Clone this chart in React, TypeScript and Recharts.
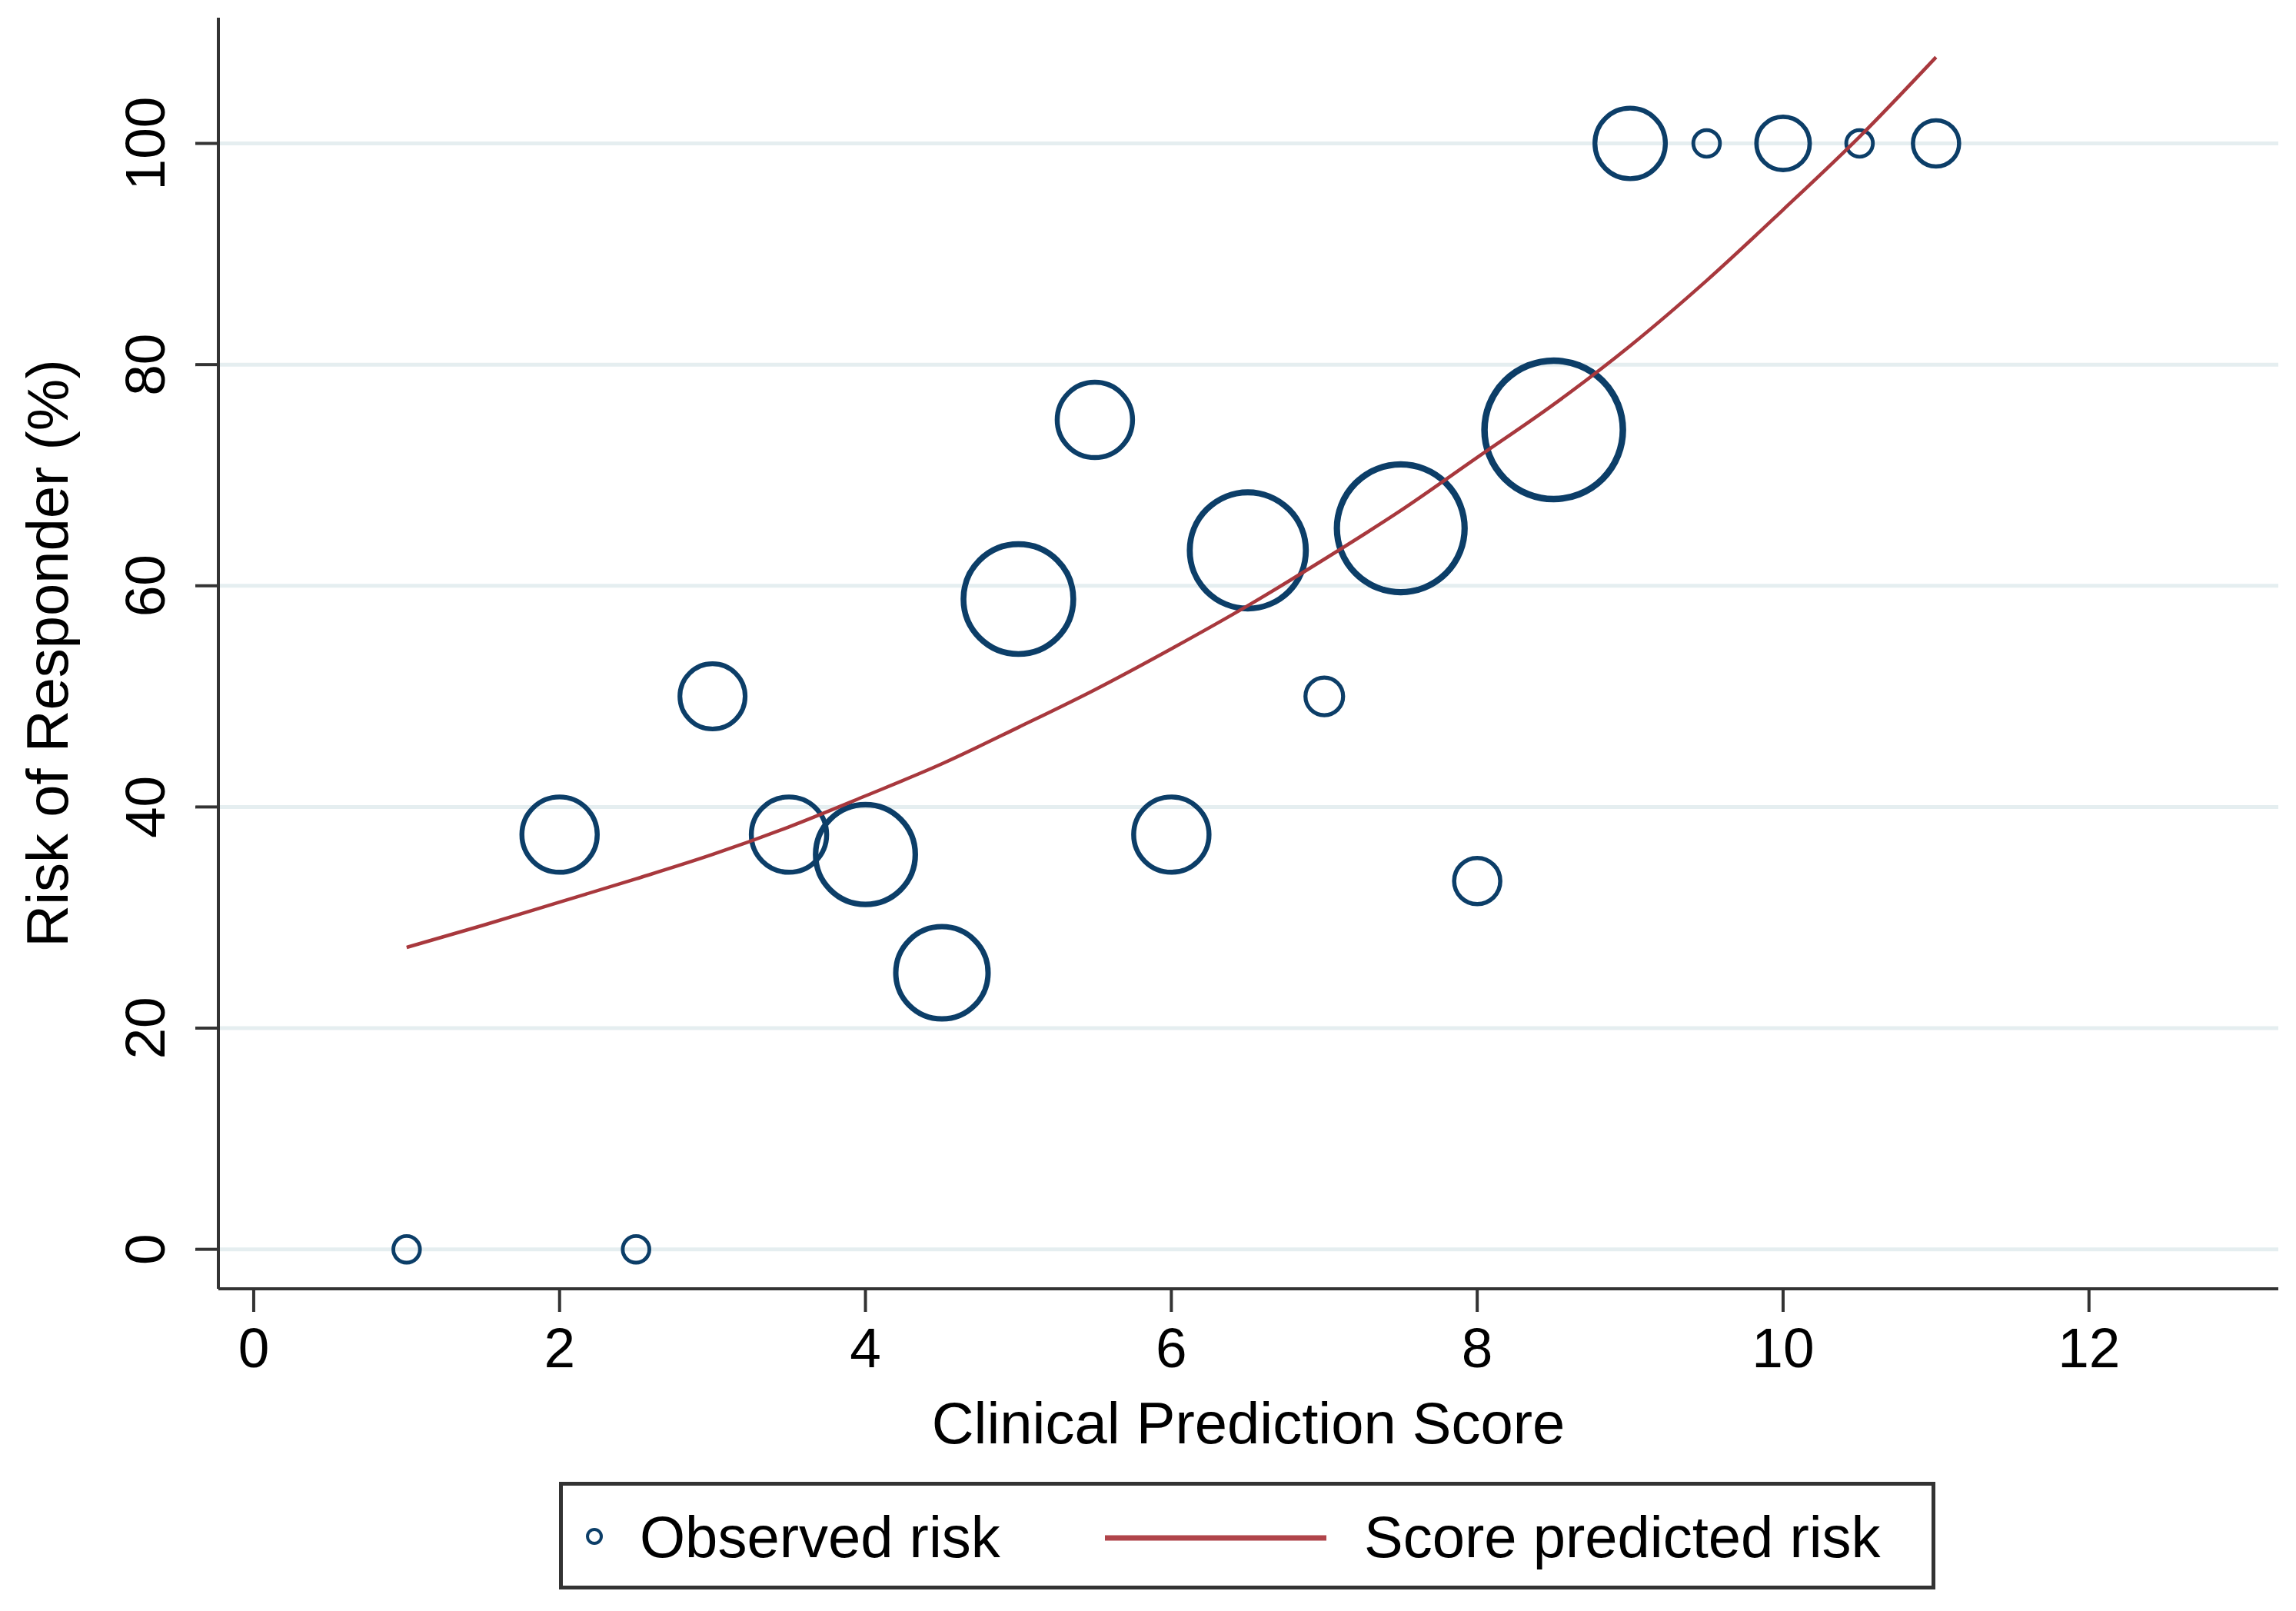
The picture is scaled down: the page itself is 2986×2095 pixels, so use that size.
import React from 'react'
import {
  ScatterChart,
  Scatter,
  XAxis,
  YAxis,
  ZAxis,
  CartesianGrid,
  Legend,
} from 'recharts'

// Observed risk per score group, bubble area ~ number of patients in the group
const scores = [1, 2, 2.5, 3, 3.5, 4, 4.5, 5, 5.5, 6, 6.5, 7, 7.5, 8, 8.5, 9, 9.5, 10, 10.5, 11]
const observedRisk = [0, 37.5, 0, 50, 37.5, 35.7, 25, 58.8, 75, 37.5, 63.2, 50, 65.2, 33.3, 74.1, 100, 100, 100, 100, 100]
const groupSize = [1, 8, 1, 6, 8, 14, 12, 17, 8, 8, 19, 2, 23, 3, 27, 7, 1, 4, 1, 3]

// Score predicted risk
const curveScores = [1, 1.5, 2, 2.5, 3, 3.5, 4, 4.5, 5, 5.5, 6, 6.5, 7, 7.5, 8, 8.5, 9, 9.5, 10, 10.5, 11]
const predictedRisk = [27.3, 29.3, 31.4, 33.5, 35.7, 38.2, 41.0, 43.9, 47.2, 50.6, 54.3, 58.2, 62.4, 66.8, 71.6, 76.4, 81.7, 87.6, 94.0, 100.6, 107.8]

const xTicks = [0, 2, 4, 6, 8, 10, 12]
const yTicks = [0, 20, 40, 60, 80, 100]

const observedData = scores.map((score, i) => ({ score, risk: observedRisk[i], n: groupSize[i] }))
const curveData = curveScores.map((score, i) => ({ score, risk: predictedRisk[i] }))

const NAVY = '#0c3e68'
const MAROON = '#a8383d'
const AXIS = '#333333'
const FONT = '"Liberation Sans", Arial, Helvetica, sans-serif'

const Bubble = (props: any) => {
  const { cx, cy } = props
  const size = props.size ?? Math.PI * Math.pow((props.width || 0) / 2, 2)
  const r = Math.sqrt(Math.max(size, 0) / Math.PI)
  if (cx == null || cy == null || !isFinite(r)) return <g />
  return (
    <circle cx={cx} cy={cy} r={r} fill="none" stroke={NAVY} strokeWidth={4 + r * 0.05} />
  )
}

const XTick = ({ x, y, payload }: any) => (
  <text x={x} y={y} dy="0.71em" textAnchor="middle" fontSize={73} fontFamily={FONT} fill="#000">
    {payload.value}
  </text>
)

const YTick = ({ x, y, payload }: any) => (
  <text
    transform={`translate(${x},${y}) rotate(-90)`}
    textAnchor="middle"
    fontSize={73}
    fontFamily={FONT}
    fill="#000"
  >
    {payload.value}
  </text>
)

const XTitle = ({ viewBox }: any) => (
  <text
    x={viewBox.x + viewBox.width / 2}
    y={viewBox.y + 201}
    textAnchor="middle"
    fontSize={76}
    fontFamily={FONT}
    fill="#000"
  >
    Clinical Prediction Score
  </text>
)

const YTitle = ({ viewBox }: any) => (
  <text
    transform={`translate(${viewBox.x + 4},${viewBox.y + viewBox.height / 2}) rotate(-90)`}
    textAnchor="middle"
    fontSize={76}
    fontFamily={FONT}
    fill="#000"
  >
    Risk of Responder (%)
  </text>
)

// legend item offsets inside the box: [symbol x, text x]
const legendSlots = [
  { sym: 46, text: 105 },
  { sym: 710, text: 1047 },
]

const LegendBox = ({ payload }: any) => {
  const items = payload || []
  return (
    <svg width={1790} height={140}>
      <rect x={2.5} y={2.5} width={1785} height={135} fill="#fff" stroke={AXIS} strokeWidth={5} />
      {items.map((item: any, i: number) => {
        const slot = legendSlots[i] || legendSlots[0]
        return (
          <g key={item.value}>
            {item.type === 'line' ? (
              <line x1={slot.sym} x2={slot.sym + 288} y1={73} y2={73} stroke="#b0444a" strokeWidth={7} />
            ) : (
              <circle cx={slot.sym} cy={71} r={9} fill="none" stroke={NAVY} strokeWidth={4} />
            )}
            <text x={slot.text} y={98} fontSize={76} fontFamily={FONT} fill="#000">
              {item.value}
            </text>
          </g>
        )
      })}
    </svg>
  )
}

export default function App() {
  return (
    <div style={{ position: 'absolute', left: 0, top: 0, background: '#fff' }}>
      <ScatterChart width={2986} height={2095} margin={{ top: 23, right: 23, bottom: 219, left: 84 }}>
        <CartesianGrid
          horizontal
          vertical={false}
          horizontalValues={yTicks}
          stroke="#e5eef0"
          strokeWidth={5}
        />
        <XAxis
          type="number"
          dataKey="score"
          domain={[-0.231, 13.238]}
          allowDataOverflow
          ticks={xTicks}
          height={200}
          tickSize={30}
          tickMargin={20}
          axisLine={{ stroke: AXIS, strokeWidth: 4 }}
          tickLine={{ stroke: AXIS, strokeWidth: 4 }}
          tick={<XTick />}
          label={XTitle}
        />
        <YAxis
          type="number"
          dataKey="risk"
          domain={[-3.57, 111.37]}
          allowDataOverflow
          ticks={yTicks}
          width={200}
          tickSize={30}
          tickMargin={40}
          axisLine={{ stroke: AXIS, strokeWidth: 4 }}
          tickLine={{ stroke: AXIS, strokeWidth: 4 }}
          tick={<YTick />}
          label={YTitle}
        />
        <ZAxis zAxisId="obs" type="number" dataKey="n" domain={[0, 27]} range={[0, Math.PI * 90 * 90]} />
        <ZAxis zAxisId="fit" type="number" range={[1, 1]} />
        <Scatter
          name="Observed risk"
          data={observedData}
          zAxisId="obs"
          shape={Bubble}
          legendType="circle"
          fill={NAVY}
          isAnimationActive={false}
        />
        <Scatter
          name="Score predicted risk"
          data={curveData}
          zAxisId="fit"
          line={{ stroke: MAROON, strokeWidth: 4.5 }}
          lineJointType="monotoneX"
          shape={() => <g />}
          legendType="line"
          fill={MAROON}
          isAnimationActive={false}
        />
        <Legend
          layout="horizontal"
          verticalAlign="middle"
          align="center"
          content={LegendBox}
          wrapperStyle={{ position: 'absolute', left: 727, top: 1927, width: 1790, height: 140 }}
        />
      </ScatterChart>
    </div>
  )
}
